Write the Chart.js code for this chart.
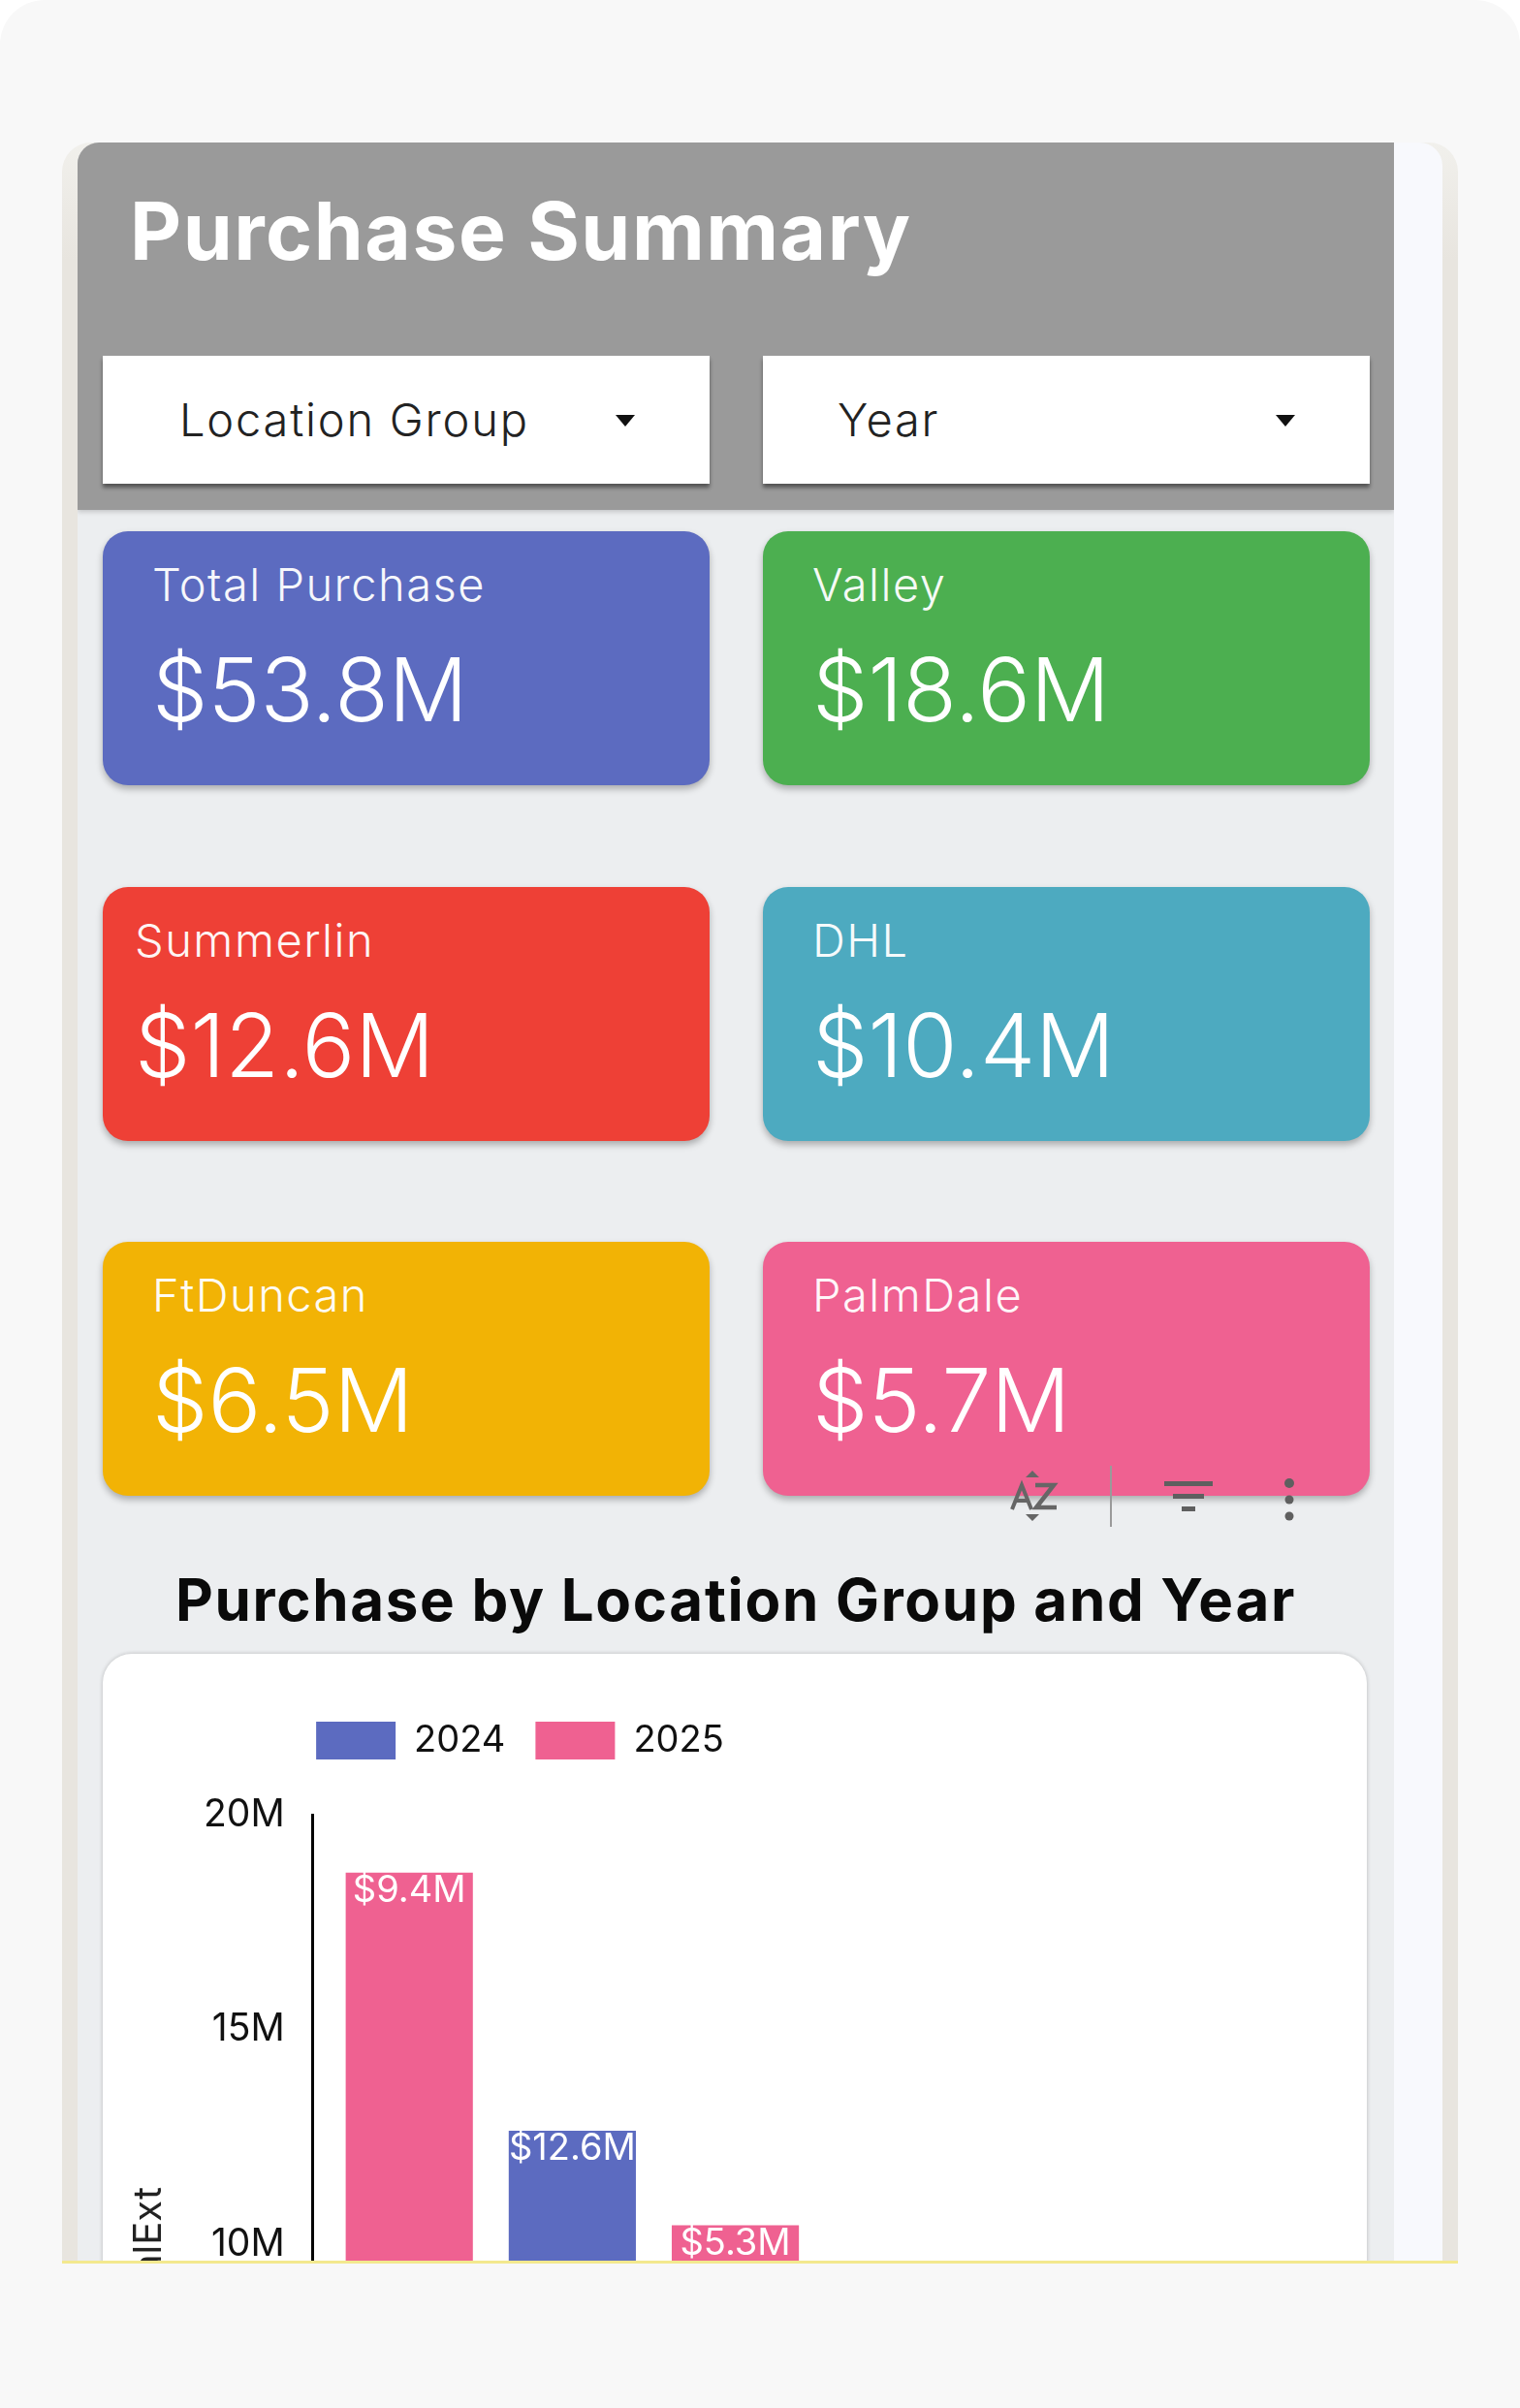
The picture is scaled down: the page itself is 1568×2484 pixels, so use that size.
<!DOCTYPE html>
<html><head><meta charset="utf-8">
<script src="https://cdn.jsdelivr.net/npm/chart.js@4"></script>
<style>
html,body{margin:0;padding:0;width:1568px;height:2484px;overflow:hidden;background:#fff;font-family:Inter,"Noto Sans",sans-serif;}
.abs,.kpi,.kpi *{position:absolute}
#page{position:absolute;left:0;top:0;width:1568px;height:2484px;background:#f8f8f8;border-radius:46px 46px 0 0;overflow:hidden}
#frame{position:absolute;left:64px;top:147px;width:1440px;height:2185px;background:linear-gradient(#f1f0ec 0,#e8e5df 120px);border-radius:30px 30px 0 0;overflow:hidden}
#strip{position:absolute;left:1374px;top:0;width:50px;height:2185px;background:#f8f9fd;border-radius:0 24px 0 0}
#main{position:absolute;left:16px;top:0;width:1358px;height:2185px;background:#eceef0;overflow:hidden;border-radius:22px 0 0 0}
#yellow{position:absolute;left:64px;top:2332px;width:1440px;height:3px;background:#f3e98f}
#head{position:absolute;left:0;top:0;width:1358px;height:379px;background:#9a9a9a;box-shadow:0 2px 5px rgba(0,0,0,.18)}
#headTitle{position:absolute;left:54px;top:46px;font-size:82px;letter-spacing:1.5px;font-weight:700;color:#fff;line-height:92px;white-space:nowrap}
.dd{position:absolute;top:220px;width:626px;height:132px;background:#fff;box-shadow:0 4px 4px rgba(0,0,0,.45)}
.dd span{position:absolute;top:37px;font-size:47px;letter-spacing:1.8px;font-weight:350;line-height:58px;color:#222;white-space:nowrap}
.dd i{position:absolute;top:61px;width:0;height:0;border-left:10px solid transparent;border-right:10px solid transparent;border-top:12px solid #111}
.kpi{width:626px;height:262px;border-radius:26px;box-shadow:0 4px 7px rgba(0,0,0,.28);color:#fff}
.kpi b{font-weight:300;font-size:47px;letter-spacing:1.5px;line-height:56px;white-space:nowrap;opacity:.95}
.kpi em{font-style:normal;font-weight:300;font-size:91px;line-height:104px;white-space:nowrap}
#chartTitle{position:absolute;left:0;width:1358px;top:1470px;font-size:60px;letter-spacing:1.7px;line-height:66px;font-weight:700;text-align:center;color:#0a0a0a;white-space:nowrap}
#chartCard{position:absolute;left:26px;top:1559px;width:1304px;height:1200px;background:#fff;border-radius:30px;box-shadow:0 0 4px rgba(0,0,0,.22);overflow:hidden}
#chartCard canvas{position:absolute;left:0;top:0}
#tools{position:absolute;left:0;top:0}
</style></head>
<body>
<div id="page">
  <div id="frame">
    <div id="strip"></div>
    <div id="main">
      <div id="head">
        <div id="headTitle">Purchase Summary</div>
        <div class="dd" style="left:26px"><span style="left:79px">Location Group</span><i style="left:529px"></i></div>
        <div class="dd" style="left:707px"><span style="left:77px">Year</span><i style="left:529px"></i></div>
      </div>
      <div id="kpis"></div>
      <div id="chartTitle">Purchase by Location Group and Year</div>
      <div id="chartCard"><canvas id="c" width="1304" height="1102"></canvas></div>
      <svg id="tools" width="1358" height="1500" viewBox="80 147 1358 1500" style="pointer-events:none">
        <g fill="none" stroke="#666" stroke-width="5">
          <path d="M1044 1557 L1054 1532 L1064 1557 M1048 1548 H1060" stroke-width="4"/>
          <path d="M1068 1532 H1087 L1069 1555 H1090" stroke-width="4.5"/>
        </g>
        <path d="M1058 1524 L1065 1517 L1072 1524Z M1058 1562 L1065 1569 L1072 1562Z" fill="#666"/>
        <rect x="1145" y="1512" width="2" height="63" fill="#9a9a9a"/>
        <g fill="#5f5f5f">
          <rect x="1201" y="1528" width="50" height="5"/>
          <rect x="1210" y="1541" width="32" height="5"/>
          <rect x="1219" y="1554" width="14" height="5"/>
          <circle cx="1330" cy="1530" r="5"/><circle cx="1330" cy="1547" r="4.5"/><circle cx="1330" cy="1564" r="4.5"/>
        </g>
      </svg>
    </div>
  </div>
  <div id="yellow"></div>
</div>
<script>
const categories = ['Valley', 'Summerlin', 'DHL', 'FtDuncan', 'PalmDale'];
const seriesNames = ['2024', '2025'];
const values2024 = [9.25, 12.64, 5.14, 3.2, 2.8];
const values2025 = [9.4, null, 5.3, 3.3, 2.9];
const yTicks = [0, 5, 10, 15, 20];
const kpiLabels = ['Total Purchase', 'Valley', 'Summerlin', 'DHL', 'FtDuncan', 'PalmDale'];
const kpiValues = ['$53.8M', '$18.6M', '$12.6M', '$10.4M', '$6.5M', '$5.7M'];
const kpiColors = ['#5c6bc0', '#4caf50', '#ee4036', '#4daac0', '#f2b305', '#ef6191'];
const kpiLeft = [51, 51, 33, 51, 51, 51];

const kpis = document.getElementById('kpis');
kpiLabels.forEach((l, i) => {
  const col = i % 2, row = Math.floor(i / 2);
  const d = document.createElement('div');
  d.className = 'kpi';
  d.style.cssText = `left:${col ? 707 : 26}px;top:${401 + row * 366.5}px;background:${kpiColors[i]}`;
  d.innerHTML = `<b style="left:${kpiLeft[i]}px;top:27px">${l}</b><em style="left:${kpiLeft[i]}px;top:111px">${kpiValues[i]}</em>`;
  kpis.appendChild(d);
});

const FONT = 'Inter, "Noto Sans", sans-serif';
const tweak = {
  id: 'tweak',
  beforeInit(chart) {
    const f = chart.legend.fit;
    chart.legend.fit = function () { f.call(this); this.height += 47; };
  },
  afterLayout(chart) {
    const x = chart.scales.x;
    x.left += 15.5;
    x.configure();
    chart.legend.left = chart.chartArea.left + 3.5 - 31;
  }
};
const segLabels = {
  id: 'segLabels',
  afterDatasetsDraw(chart) {
    const ctx = chart.ctx;
    ctx.save();
    ctx.fillStyle = '#fff';
    ctx.font = '38px ' + FONT;
    ctx.textAlign = 'center';
    ctx.textBaseline = 'middle';
    chart.data.datasets.forEach((ds, di) => {
      chart.getDatasetMeta(di).data.forEach((el, i) => {
        if (ds.data[i] == null) return;
        ctx.fillText('$' + ds.data[i].toFixed(1) + 'M', el.x, el.y + 19);
      });
    });
    ctx.restore();
  }
};
new Chart(document.getElementById('c'), {
  type: 'bar',
  data: {
    labels: categories,
    datasets: [
      { label: seriesNames[0], data: values2024, backgroundColor: kpiColors[0], stack: 's' },
      { label: seriesNames[1], data: values2025, backgroundColor: kpiColors[5], stack: 's' }
    ]
  },
  options: {
    responsive: false,
    animation: false,
    devicePixelRatio: 1,
    layout: { padding: { top: 39, right: 231, left: 24, bottom: 0 } },
    categoryPercentage: 0.78,
    barPercentage: 1,
    plugins: {
      tooltip: { enabled: false },
      legend: {
        position: 'top', align: 'start', fullSize: false,
        labels: { boxWidth: 82, boxHeight: 39, padding: 31, color: '#111', font: { family: FONT, size: 38 } }
      }
    },
    scales: {
      x: {
        stacked: true,
        grid: { display: false },
        border: { display: false },
        ticks: { color: '#111', font: { family: FONT, size: 30 } }
      },
      y: {
        stacked: true, min: 0, max: 20,
        afterBuildTicks(s) { s.ticks = yTicks.map(v => ({ value: v })); },
        grid: { display: false },
        border: { display: true, color: '#000', width: 3 },
        title: { display: true, text: 'TotalExt\u00a0\u00a0\u00a0', color: '#222', font: { family: FONT, size: 40 }, padding: { top: 0, bottom: 11 } },
        ticks: { padding: 21, color: '#111', font: { family: FONT, size: 39 }, callback: v => v + 'M' }
      }
    }
  },
  plugins: [tweak, segLabels]
});
</script>
</body></html>
